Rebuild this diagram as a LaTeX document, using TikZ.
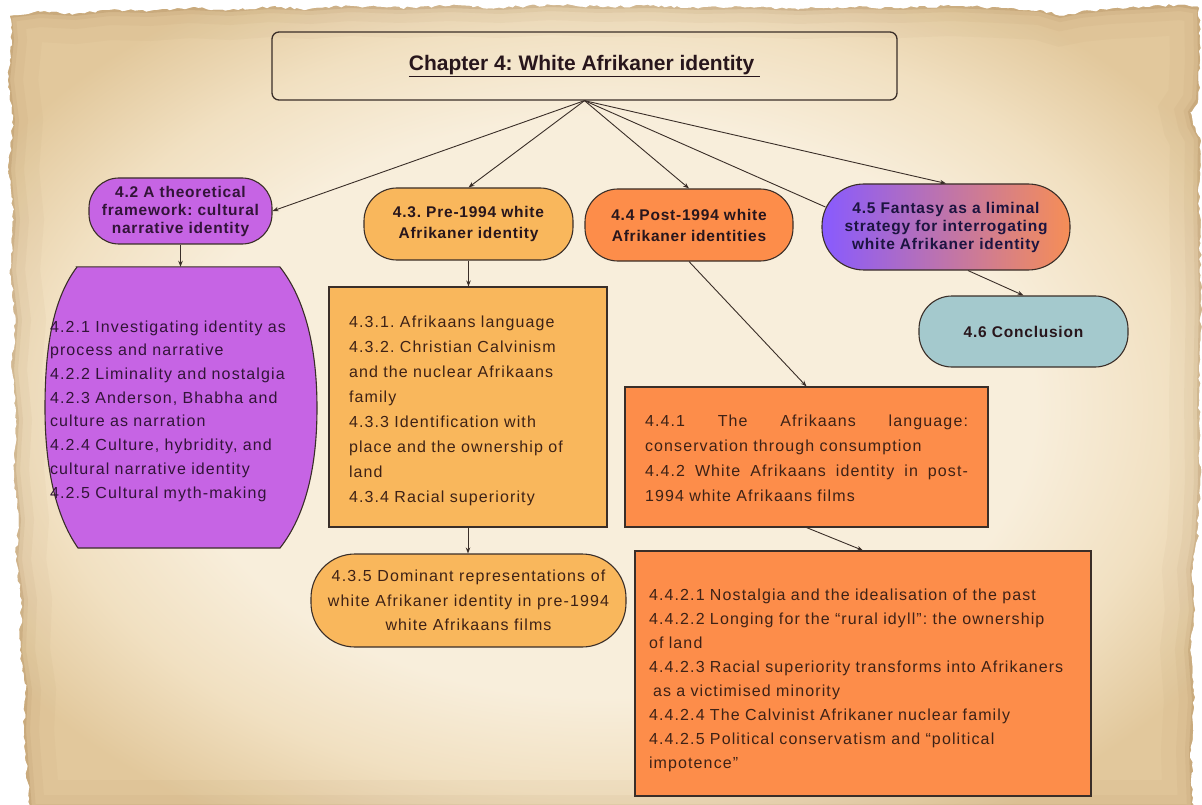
\documentclass[tikz,border=0pt]{standalone}
\usepackage{fontspec}
\setmainfont{Liberation Sans}
\newfontfamily\bodyfont{Liberation Sans}[LetterSpace=7]
\newfontfamily\headfont{Liberation Sans}[LetterSpace=5]
\usetikzlibrary{arrows.meta,decorations.pathmorphing,shadings}
\frenchspacing

% paper tones
\definecolor{parchlight}{RGB}{248,238,219}
\definecolor{parchmid}{RGB}{241,224,193}
\definecolor{parchedge}{RGB}{226,200,156}
\definecolor{burn}{RGB}{150,108,60}
% box fills
\definecolor{lilac}{RGB}{198,100,228}
\definecolor{apricot}{RGB}{249,183,92}
\definecolor{tangerine}{RGB}{253,141,74}
\definecolor{sage}{RGB}{164,201,205}
\definecolor{violetend}{RGB}{136,90,255}
\definecolor{pinkmid}{RGB}{205,110,185}
\definecolor{coralend}{RGB}{246,142,86}
% strokes and text
\definecolor{ink}{RGB}{58,46,40}
\definecolor{headink}{RGB}{40,22,28}
\definecolor{bodyink}{RGB}{62,34,22}
\definecolor{purpleink}{RGB}{50,20,56}
\definecolor{navyink}{RGB}{28,20,64}

\pgfdeclareradialshading{parchment}{\pgfpoint{0bp}{0bp}}{%
  color(0bp)=(parchlight); color(18bp)=(parchlight);
  color(24bp)=(parchmid); color(30bp)=(parchedge); color(50bp)=(parchedge)}

\newcommand\parchoutline{(10,16) -- (40,12) -- (75,14) -- (110,10) -- (150,11) -- (190,8)
  -- (230,10) -- (270,7) -- (310,9) -- (350,6) -- (400,8) -- (450,6) -- (500,8)
  -- (550,5) -- (600,7) -- (650,6) -- (700,8) -- (750,7) -- (800,9) -- (850,7)
  -- (900,8) -- (950,6) -- (1000,8) -- (1040,10) -- (1060,16) -- (1080,12)
  -- (1110,9) -- (1150,7) -- (1180,5) -- (1199,8) -- (1200,60) -- (1198,100)
  -- (1190,112) -- (1193,125) -- (1200,138) -- (1199,200) -- (1201,300)
  -- (1199,400) -- (1200,480) -- (1197,540) -- (1192,570) -- (1195,610)
  -- (1190,650) -- (1194,700) -- (1191,750) -- (1193,810) -- (30,810)
  -- (27,770) -- (24,730) -- (26,690) -- (20,650) -- (22,600) -- (16,560)
  -- (19,520) -- (14,470) -- (17,420) -- (12,370) -- (16,320) -- (10,270)
  -- (14,220) -- (9,170) -- (13,120) -- (8,80) -- (12,40) -- cycle}

\begin{document}
\begin{tikzpicture}[x=1pt,y=-1pt,
  pill/.style={draw=ink, line width=1.1pt, rounded corners=#1, align=center, inner sep=0pt},
  pill/.default=32,
  head/.style={font=\headfont\bfseries\fontsize{15.5}{18}\selectfont, text=headink},
  boxframe/.style={draw=ink, line width=1.1pt, inner sep=0pt},
  boxtext/.style={inner sep=0pt, align=left, text=bodyink},
  link/.style={draw=ink, line width=0.9pt, -{Stealth[length=6pt,width=4.5pt]}},
  bare/.style={draw=ink, line width=0.9pt}]

\useasboundingbox (0,0) rectangle (1202,805);
\fill[white] (0,0) rectangle (1202,805);

% torn parchment sheet, darker towards its ragged border
\pgfmathsetseed{11}
\begin{scope}
  \path[clip, decorate, decoration={random steps, segment length=4pt, amplitude=1.4pt}] \parchoutline;
  \fill[parchedge] (0,0) rectangle (1202,810);
  \shade[shading=parchment] (8,4) rectangle (1202,810);
  \draw[burn, line width=60, opacity=.04] \parchoutline;
  \draw[burn, line width=30, opacity=.05] \parchoutline;
  \draw[burn, line width=12, opacity=.08] \parchoutline;
  \draw[burn, line width=4, opacity=.18] \parchoutline;
\end{scope}

% title
\node[draw=ink, line width=1.3pt, rounded corners=7, minimum width=625, minimum height=68,
      inner sep=0pt, text=headink, font=\bfseries\fontsize{21}{24}\selectfont]
  (title) at (584.5,66) {\underline{Chapter 4: White Afrikaner identity\ }};

% section 4.2
\node[pill=30, head, fill=lilac, text=purpleink, minimum width=183, minimum height=66]
  (n42) at (180.5,211) {4.2 A theoretical\\framework: cultural\\narrative identity};
\node[minimum width=272, minimum height=281, inner sep=0pt] (l42) at (181,407.5) {};
\fill[lilac, draw=ink, line width=1.1pt]
  (l42.north west) ++(32,0) -- ++(203,0) .. controls (306,300) and (317,350) .. (317,408)
  .. controls (317,466) and (306,515) .. (280,548) -- (78,548)
  .. controls (55,515) and (45,466) .. (45,408)
  .. controls (45,350) and (52,300) .. (77,267) -- cycle;
\node[boxtext, text=purpleink, text width=262, font=\bodyfont\fontsize{16}{23.7}\selectfont]
  (l42t) at ([shift={(0,3.5)}]l42.center) {4.2.1 Investigating identity as\\process and narrative\\4.2.2 Liminality and nostalgia\\4.2.3 Anderson, Bhabha and\\culture as narration\\4.2.4 Culture, hybridity, and\\cultural narrative identity\\4.2.5 Cultural myth-making};

% section 4.3
\node[pill=33, head, fill=apricot, minimum width=209, minimum height=72,
      font=\headfont\bfseries\fontsize{15.5}{21.5}\selectfont]
  (n43) at (468.5,224) {4.3. Pre-1994 white\\Afrikaner identity};
\node[boxframe, fill=apricot, minimum width=278, minimum height=240] (b43) at (468,407) {};
\node[boxtext, text width=238, font=\bodyfont\fontsize{16}{24.9}\selectfont]
  (b43t) at ([shift={(0,4)}]b43.center) {4.3.1. Afrikaans language\\4.3.2. Christian Calvinism\\and the nuclear Afrikaans\\family\\4.3.3 Identification with\\place and the ownership of\\land\\4.3.4 Racial superiority};
\node[pill=44, fill=apricot, text=bodyink, minimum width=315, minimum height=93,
      font=\bodyfont\fontsize{16}{24.5}\selectfont]
  (n435) at (468.5,600.5) {4.3.5 Dominant representations of\\white Afrikaner identity in pre-1994\\white Afrikaans films};

% section 4.4
\node[pill=33, head, fill=tangerine, minimum width=208, minimum height=72,
      font=\headfont\bfseries\fontsize{15.5}{21}\selectfont]
  (n44) at (689,225) {4.4 Post-1994 white\\Afrikaner identities};
\node[boxframe, fill=tangerine, minimum width=363, minimum height=140] (b441) at (806.5,457) {};
\node[boxtext, text width=323, font=\bodyfont\fontsize{16}{25}\selectfont]
  (b441t) at ([shift={(0,1)}]b441.center) {4.4.1\hfill The\hfill Afrikaans\hfill language:\\conservation through consumption\\4.4.2\hfill White\hfill Afrikaans\hfill identity\hfill in\hfill post-\\1994 white Afrikaans films};
\node[boxframe, fill=tangerine, minimum width=456, minimum height=245] (b442) at (863,673.5) {};
\node[boxtext, text width=428, font=\bodyfont\fontsize{16}{24}\selectfont]
  (b442t) at ([shift={(0,7)}]b442.center) {4.4.2.1 Nostalgia and the idealisation of the past\\4.4.2.2 Longing for the “rural idyll”: the ownership\\of land\\4.4.2.3 Racial superiority transforms into Afrikaners\\\hspace*{4pt}as a victimised minority\\4.4.2.4 The Calvinist Afrikaner nuclear family\\4.4.2.5 Political conservatism and “political\\impotence”};

% sections 4.5 and 4.6
\node[pill=42, head, text=navyink, left color=violetend, middle color=pinkmid, right color=coralend,
      minimum width=248, minimum height=86]
  (n45) at (946,227) {4.5 Fantasy as a liminal\\strategy for interrogating\\white Afrikaner identity};
\node[pill=33, head, fill=sage, minimum width=209, minimum height=71]
  (n46) at (1023.5,331.5) {4.6 Conclusion};

% connectors
\draw[link] (title.south) -- (n42.east);
\draw[link] (title.south) -- (n43.north);
\draw[link] (title.south) -- (n44.north);
\draw[bare] (title.south) -- ([shift={(4,-20)}]n45.west);
\draw[link] (title.south) -- (n45.north);
\draw[link] (n42.south) -- (n42.south |- l42.north);
\draw[link] (n43.south) -- (n43.south |- b43.north);
\draw[link] (b43.south) -- (b43.south |- n435.north);
\draw[link] (n44.south) -- (b441.north);
\draw[link] (b441.south) -- (b442.north);
\draw[link] ([xshift=22]n45.south) -- (n46.north);
\end{tikzpicture}
\end{document}
